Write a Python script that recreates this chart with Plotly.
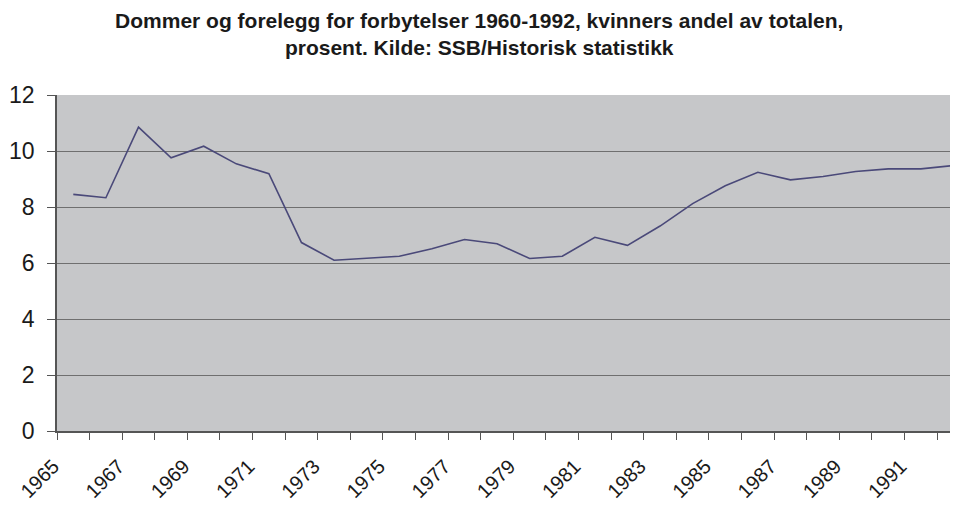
import plotly.graph_objects as go

years = list(range(1965, 1993))
share = [8.45, 8.33, 10.85, 9.76, 10.17, 9.54, 9.19, 6.73, 6.10, 6.17,
         6.24, 6.51, 6.84, 6.69, 6.16, 6.24, 6.92, 6.63, 7.32, 8.12,
         8.76, 9.24, 8.97, 9.09, 9.27, 9.36, 9.36, 9.48]
label_years = list(range(1965, 1993, 2))
label_text = [str(y) for y in label_years]
y_ticks = [0, 2, 4, 6, 8, 10, 12]

title = ("<b>Dommer og forelegg for forbytelser 1960-1992, kvinners andel av totalen,<br>"
         "prosent. Kilde: SSB/Historisk statistikk</b>")

fig = go.Figure()
fig.add_trace(go.Scatter(x=years, y=share, mode="lines",
                         line=dict(color="#4a4979", width=1.6),
                         showlegend=False, hoverinfo="x+y"))

# page body has an 8px margin, so the figure is sized to fit the 958x506 window
fig.update_layout(
    width=950, height=498,
    margin=dict(l=49, r=0, t=87, b=75, autoexpand=False),
    paper_bgcolor="white", plot_bgcolor="#c6c7c9",
    font=dict(family="Liberation Sans, Arial, sans-serif", color="#1a1a1a"),
    title=dict(text=title, x=0.496, xanchor="center", y=0.96, yanchor="top",
               font=dict(size=21, color="#1a1a1a", family="Liberation Sans, Arial, sans-serif")),
)
fig.update_xaxes(
    range=[1964.5, 1992.14], automargin=False,
    tickmode="array", tickvals=label_years, ticktext=label_text,
    tickangle=-45, ticks="", showgrid=False, zeroline=False,
    tickfont=dict(size=20, color="#1a1a1a"),
    showline=True, linecolor="#555555", linewidth=1.5,
    minor=dict(tickmode="linear", tick0=1964.5, dtick=1, ticks="outside",
               ticklen=7, tickcolor="#555555", tickwidth=1, showgrid=False),
    ticklabelstandoff=14, ticklabelshift=-20,
)
fig.update_yaxes(
    range=[0, 12], tickmode="array", tickvals=y_ticks, automargin=False,
    ticks="outside", ticklen=8, tickcolor="#555555", tickwidth=1,
    showgrid=True, gridcolor="#6f6f6f", gridwidth=1.3,
    zeroline=False, showline=True, linecolor="#555555", linewidth=1.5,
    tickfont=dict(size=23, color="#1a1a1a"),
    ticklabelstandoff=8,
)

fig.write_html("out.html")
